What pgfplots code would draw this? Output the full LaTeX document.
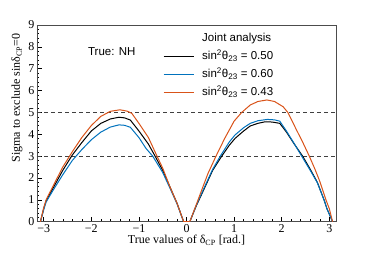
\documentclass[border=0pt]{standalone}
\usepackage{fontspec}
\setmainfont{Liberation Serif}
\newfontfamily\lsans{Liberation Sans}
\usepackage{pgfplots}
\pgfplotsset{compat=1.18}
\definecolor{cblue}{RGB}{0,114,189}
\definecolor{corange}{RGB}{217,83,25}
\begin{document}
\begin{tikzpicture}
\useasboundingbox (-37pt,-31.3pt) rectangle (337pt,221.7pt);
\begin{axis}[
 scale only axis, width=299pt, height=196.7pt,
 xmin=-3.1416, xmax=3.1416, ymin=0, ymax=9,
 xtick={-3,-2,-1,0,1,2,3}, xticklabels={−3,−2,−1,0,1,2,3},
 ytick={0,1,2,3,4,5,6,7,8,9}, yticklabels={0,1,2,3,4,5,6,7,8,9},
 minor x tick num=4, minor y tick num=4,
 tick align=inside, xtick pos=left, ytick pos=left,
 major tick length=5pt, minor tick length=2.5pt,
 axis line style={black!70, line width=0.8pt},
 tick style={black, line width=0.5pt},
 ticklabel style={font=\fontsize{12}{14}\selectfont},
 xticklabel style={anchor=base, yshift=-10.8pt},
 yticklabel style={anchor=east, inner sep=0pt, xshift=-2.5pt},
 xlabel={True values of δ\textsubscript{CP} [rad.]},
 ylabel={Sigma to exclude sinδ\textsubscript{CP}=0},
 every axis x label/.style={at={(rel axis cs:0.5,0)}, anchor=base, yshift=-22pt, font=\fontsize{12}{14}\selectfont},
 every axis y label/.style={at={(rel axis cs:-0.0569,0.9746)}, rotate=90, anchor=base east, font=\fontsize{12}{14}\selectfont},
 legend style={draw=none, fill=none, at={(rel axis cs:0.4214,0.966)}, anchor=north west, inner sep=0pt,
   font=\lsans\fontsize{11.5}{13}\selectfont, row sep=4.5pt, column sep=7pt,
   nodes={inner sep=1pt, text height=8.5pt, text depth=3pt}},
 legend cell align=left,
 legend image code/.code={\draw[#1, line width=1pt] (0pt,0pt) -- (30pt,0pt);},
]
\addplot[black!75, dash pattern=on 4pt off 3pt, line width=0.6pt, forget plot] coordinates {(-3.1416,3) (3.1416,3)};
\addplot[black!75, dash pattern=on 4pt off 3pt, line width=0.6pt, forget plot] coordinates {(-3.1416,5) (3.1416,5)};
\addlegendimage{empty legend}
\addlegendentry{Joint analysis}
\addplot[black, line width=1pt] coordinates {
(-3.07,0) (-3.0,0.6) (-2.95,0.95) (-2.8,1.55) (-2.6,2.35) (-2.4,3.05) (-2.2,3.62) (-2.0,4.15) (-1.8,4.5) (-1.6,4.7) (-1.42,4.78) (-1.3,4.75) (-1.18,4.65) (-1.0,4.15) (-0.8,3.55) (-0.66,3.0) (-0.5,2.35) (-0.34,1.55) (-0.2,0.85) (-0.06,0) (0.07,0) (0.2,0.7) (0.36,1.45) (0.55,2.35) (0.74,3.0) (0.9,3.5) (1.02,3.81) (1.2,4.15) (1.34,4.38) (1.5,4.5) (1.65,4.57) (1.8,4.56) (1.96,4.5) (2.1,4.1) (2.25,3.6) (2.44,3.0) (2.6,2.4) (2.75,1.8) (2.89,1.0) (2.95,0.6) (3.07,0)};
\addlegendentry{sin\textsuperscript{2}θ\textsubscript{23} = 0.50}
\addplot[cblue, line width=1pt] coordinates {
(-3.07,0) (-3.0,0.55) (-2.95,0.9) (-2.8,1.45) (-2.6,2.15) (-2.4,2.8) (-2.2,3.3) (-2.0,3.75) (-1.8,4.1) (-1.6,4.33) (-1.42,4.43) (-1.3,4.41) (-1.18,4.32) (-1.0,3.85) (-0.85,3.35) (-0.71,3.0) (-0.5,2.25) (-0.34,1.5) (-0.2,0.82) (-0.06,0) (0.07,0) (0.2,0.72) (0.35,1.45) (0.55,2.4) (0.71,3.0) (0.9,3.65) (1.02,3.97) (1.2,4.3) (1.34,4.5) (1.5,4.62) (1.7,4.68) (1.85,4.66) (1.96,4.6) (2.1,4.15) (2.25,3.62) (2.42,3.0) (2.6,2.35) (2.75,1.78) (2.89,1.0) (2.95,0.6) (3.07,0)};
\addlegendentry{sin\textsuperscript{2}θ\textsubscript{23} = 0.60}
\addplot[corange, line width=1pt] coordinates {
(-3.07,0) (-3.0,0.65) (-2.95,1.0) (-2.8,1.65) (-2.6,2.5) (-2.4,3.2) (-2.2,3.85) (-2.0,4.4) (-1.8,4.82) (-1.6,5.05) (-1.4,5.12) (-1.25,5.06) (-1.15,4.96) (-1.0,4.5) (-0.8,3.85) (-0.62,3.0) (-0.5,2.45) (-0.34,1.55) (-0.2,0.85) (-0.06,0) (0.07,0) (0.2,0.75) (0.32,1.45) (0.45,2.2) (0.62,3.0) (0.8,3.8) (1.0,4.6) (1.16,5.0) (1.34,5.34) (1.5,5.5) (1.69,5.57) (1.85,5.5) (2.03,5.26) (2.13,5.0) (2.3,4.25) (2.45,3.6) (2.58,3.0) (2.7,2.4) (2.8,1.85) (2.93,1.0) (3.0,0.6) (3.07,0)};
\addlegendentry{sin\textsuperscript{2}θ\textsubscript{23} = 0.43}
\node[font=\lsans\fontsize{11.5}{13}\selectfont] at (axis cs:-1.57,7.76) {True: NH};
\end{axis}
\end{tikzpicture}
\end{document}
